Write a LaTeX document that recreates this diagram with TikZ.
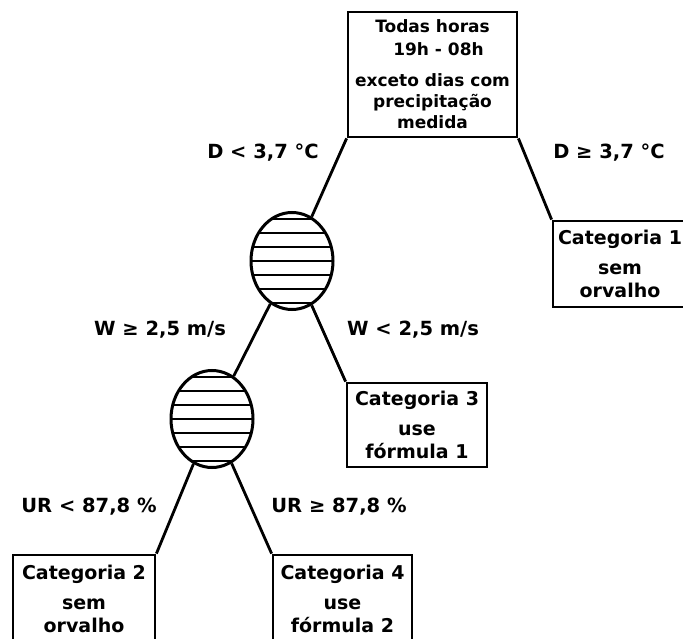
\documentclass[tikz,border=0pt]{standalone}
\usepackage{fontspec}
\setmainfont{DejaVu Sans}
\usetikzlibrary{shapes.geometric}
\tikzset{
  frame/.style={draw, line width=2.8pt, rectangle, inner sep=0pt, align=center,
    font=\bfseries\fontsize{19}{23}\selectfont},
  knot/.style={draw, line width=3pt, ellipse, inner sep=0pt,
    minimum width=82pt, minimum height=97pt,
    path picture={\foreach \k in {-3,...,3}
      \draw[line width=2.8pt] ([xshift=-50pt,yshift=\k*14pt]path picture bounding box.center) -- ++(100pt,0pt);}},
  link/.style={line width=2.8pt},
  cond/.style={font=\bfseries\fontsize{19.5}{23}\selectfont, inner sep=0pt}
}
\begin{document}
\begin{tikzpicture}[x=1pt,y=-1pt]
  \clip (0,0) rectangle (683,639);

  % root box
  \node[frame, minimum width=169pt, minimum height=125pt,
        font=\bfseries\fontsize{17}{21}\selectfont] (root) at (432.5,74.5)
    {Todas horas\\[2pt] \hspace{12pt}19h - 08h\\[10pt] exceto dias com\\ precipitação\\ medida};

  % split nodes
  \node[knot] (s1) at (292,261) {};
  \node[knot] (s2) at (212,419) {};

  % leaves
  \node[frame, minimum width=134pt, minimum height=86pt] (c1) at (620,264)
    {Categoria 1\\[7pt] sem\\ orvalho};
  \node[frame, minimum width=140pt, minimum height=84pt] (c3) at (417,425)
    {Categoria 3\\[7pt] use\\ fórmula 1};
  \node[frame, minimum width=142pt, minimum height=88pt] (c2) at (84,599)
    {Categoria 2\\[7pt] sem\\ orvalho};
  \node[frame, minimum width=139pt, minimum height=88pt] (c4) at (342.5,599)
    {Categoria 4\\[7pt] use\\ fórmula 2};

  % branches
  \draw[link] (root.south west) -- (s1);
  \draw[link] (root.south east) -- (c1.north west);
  \draw[link] (s1) -- (s2);
  \draw[link] (s1) -- (c3.north west);
  \draw[link] (s2) -- (c2.north east);
  \draw[link] (s2) -- (c4.north west);

  % branch conditions
  \node[cond] (d1) at (263,153) {D < 3,7 °C};
  \node[cond] (d2) at (609,153) {D ≥ 3,7 °C};
  \node[cond] (w1) at (160,330) {W ≥ 2,5 m/s};
  \node[cond] (w2) at (413,330) {W < 2,5 m/s};
  \node[cond] (u1) at (89,507) {UR < 87,8 \%};
  \node[cond] (u2) at (339,507) {UR ≥ 87,8 \%};
\end{tikzpicture}
\end{document}
